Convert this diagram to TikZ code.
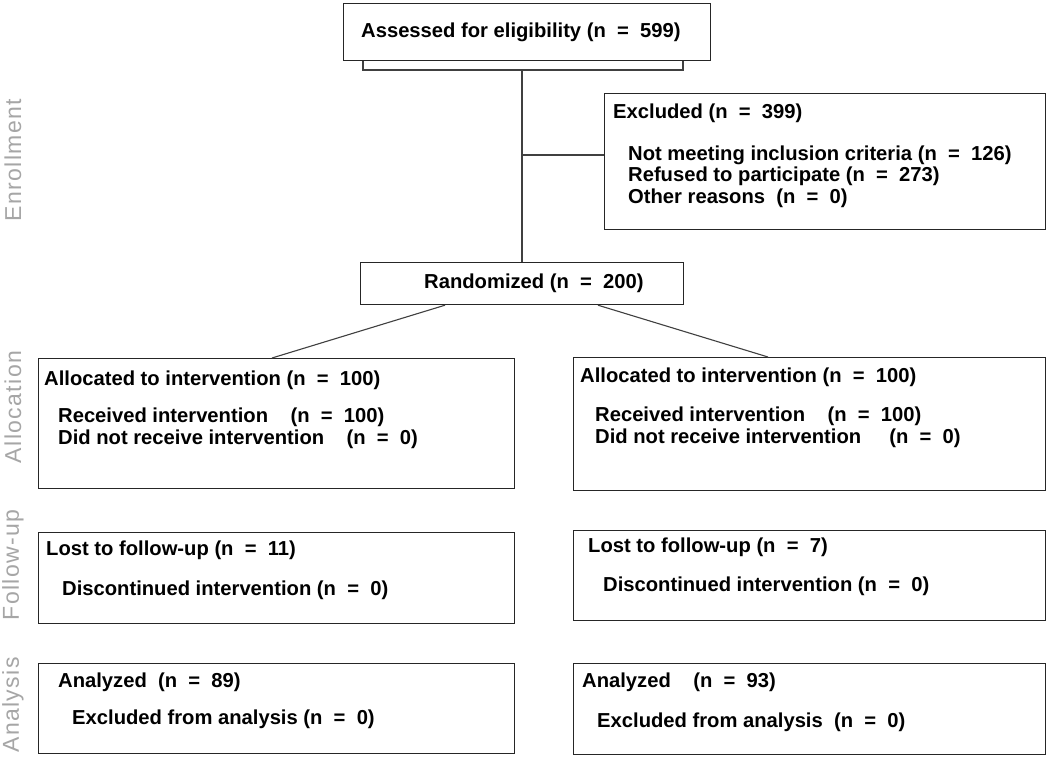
\documentclass[tikz,border=0pt]{standalone}
\usepackage{fontspec}
\setmainfont{Liberation Sans}
\begin{document}
\begin{tikzpicture}[x=1pt,y=-1pt,
  box/.style={draw=black!85, line width=1.2pt, anchor=north west, inner sep=0pt},
  txt/.style={anchor=west, inner sep=0pt, font=\fontsize{20.2}{22}\selectfont\bfseries},
  side/.style={rotate=90, text=black!35, inner sep=0pt, font=\fontsize{23}{25}\selectfont\addfontfeature{LetterSpace=6}},
  conn/.style={draw=black!75, line width=1.1pt}]
\useasboundingbox[fill=white] (0,0) rectangle (1050,759);
% boxes
\node[box, minimum width=367, minimum height=57] (assess) at (343,3) {};
\node[box, minimum width=441, minimum height=136] (excl) at (604,93) {};
\node[box, minimum width=323, minimum height=42] (rand) at (360,262) {};
\node[box, minimum width=476, minimum height=130] (allocL) at (38,358) {};
\node[box, minimum width=472, minimum height=133] (allocR) at (573,357) {};
\node[box, minimum width=476, minimum height=91] (fuL) at (38,532) {};
\node[box, minimum width=472, minimum height=90] (fuR) at (573,530) {};
\node[box, minimum width=476, minimum height=90] (anL) at (38,663) {};
\node[box, minimum width=472, minimum height=91] (anR) at (573,663) {};
% texts
\node[txt] (t1) at (361,32) {Assessed for eligibility (n\ \ =\ \ 599)};
\node[txt] (t2) at (613,113) {Excluded (n\ \ =\ \ 399)};
\node[txt] (t3) at (628,155) {Not meeting inclusion criteria (n\ \ =\ \ 126)};
\node[txt] (t4) at (628,176) {Refused to participate (n\ \ =\ \ 273)};
\node[txt] (t5) at (628,198) {Other reasons\ \ (n\ \ =\ \ 0)};
\node[txt] (t6) at (424,283) {Randomized (n\ \ =\ \ 200)};
\node[txt] (t7) at (44,380) {Allocated to intervention (n\ \ =\ \ 100)};
\node[txt] (t8) at (58,417) {Received intervention\ \ \ \ (n\ \ =\ \ 100)};
\node[txt] (t9) at (58,439) {Did not receive intervention\ \ \ \ (n\ \ =\ \ 0)};
\node[txt] (t10) at (580,377) {Allocated to intervention (n\ \ =\ \ 100)};
\node[txt] (t11) at (595,416) {Received intervention\ \ \ \ (n\ \ =\ \ 100)};
\node[txt] (t12) at (595,438) {Did not receive intervention\ \ \ \ \ (n\ \ =\ \ 0)};
\node[txt] (t13) at (46,550) {Lost to follow-up (n\ \ =\ \ 11)};
\node[txt] (t14) at (62,590) {Discontinued intervention (n\ \ =\ \ 0)};
\node[txt] (t15) at (588,547) {Lost to follow-up (n\ \ =\ \ 7)};
\node[txt] (t16) at (603,586) {Discontinued intervention (n\ \ =\ \ 0)};
\node[txt] (t17) at (58,682) {Analyzed\ \ (n\ \ =\ \ 89)};
\node[txt] (t18) at (72,719) {Excluded from analysis (n\ \ =\ \ 0)};
\node[txt] (t19) at (582,682) {Analyzed\ \ \ \ (n\ \ =\ \ 93)};
\node[txt] (t20) at (597,722) {Excluded from analysis\ \ (n\ \ =\ \ 0)};
% side labels
\node[side] (s1) at (13,160) {Enrollment};
\node[side] (s2) at (13,407) {Allocation};
\node[side] (s3) at (13,565) {Follow-up};
\node[side] (s4) at (13,705) {Analysis};
% connectors
\coordinate (bl) at (363,70);
\coordinate (br) at (683,70);
\coordinate (bm) at (522,70);
\coordinate (br0) at (522,155);
\draw[conn] (assess.south west -| bl) -- (bl) -- (br) -- (assess.south west -| br);
\draw[conn] (bm) -- (bm |- rand.north);
\draw[conn] (br0) -- (br0 -| excl.west);
\coordinate (dl1) at (445,304);
\coordinate (dl2) at (272,358);
\coordinate (dr1) at (598,304);
\coordinate (dr2) at (768,357);
\draw[conn] (dl1 |- rand.south) -- (dl2 |- allocL.north);
\draw[conn] (dr1 |- rand.south) -- (dr2 |- allocR.north);
\end{tikzpicture}
\end{document}
